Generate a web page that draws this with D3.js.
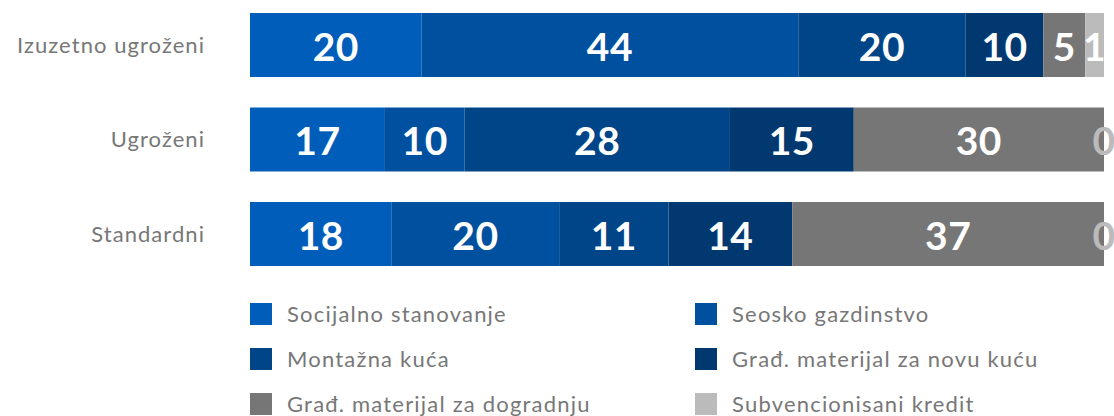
<!DOCTYPE html>
<html>
<head>
<meta charset="utf-8">
<script src="https://cdn.jsdelivr.net/npm/d3@7/dist/d3.min.js"></script>
<style>
  html, body { margin: 0; padding: 0; background: #fff; overflow: hidden; }
  svg { display: block; }
</style>
</head>
<body>
<svg id="chart" width="1114" height="416"></svg>
<script>
// ---- data ----
const categories = ["Izuzetno ugroženi", "Ugroženi", "Standardni"];
const seriesNames = [
  "Socijalno stanovanje",
  "Seosko gazdinstvo",
  "Montažna kuća",
  "Građ. materijal za novu kuću",
  "Građ. materijal za dogradnju",
  "Subvencionisani kredit"
];
const seriesColors = ["#005dba", "#0050a0", "#004587", "#00386f", "#767676", "#bbbbbb"];
// printed value labels (per category, per series)
const labelsIzuzetno = [20, 44, 20, 10, 5, 1];
const labelsUgrozeni = [17, 10, 28, 15, 30, 0];
const labelsStandardni = [18, 20, 11, 14, 37, 0];
// bar shares as drawn in the picture (percent of full bar)
const sharesIzuzetno = [20.1, 44.1, 19.6, 9.1, 4.9, 2.2];
const sharesUgrozeni = [15.8, 9.3, 31.1, 14.5, 29.3, 0];
const sharesStandardni = [16.6, 19.6, 12.8, 14.5, 36.5, 0];

const labelRows = [labelsIzuzetno, labelsUgrozeni, labelsStandardni];
const shareRows = [sharesIzuzetno, sharesUgrozeni, sharesStandardni];

// ---- layout ----
const svg = d3.select("#chart");
const x = d3.scaleLinear().domain([0, 100]).range([250, 1104]);
const y = d3.scaleBand().domain(categories).range([13, 266]).paddingInner(0.323).paddingOuter(0);
const color = d3.scaleOrdinal().domain(seriesNames).range(seriesColors);

const font = "Lato, 'Open Sans', sans-serif";

// build stacked table
const table = categories.map((c, i) => {
  const row = { category: c };
  seriesNames.forEach((s, j) => { row[s] = shareRows[i][j]; });
  return row;
});
const stacked = d3.stack().keys(seriesNames)(table);

const layers = svg.append("g").selectAll("g")
  .data(stacked).join("g")
  .attr("fill", d => color(d.key));

layers.selectAll("rect")
  .data(d => d.map((v, i) => ({ v, i, key: d.key })))
  .join("rect")
  .attr("x", d => x(d.v[0]))
  .attr("y", d => y(categories[d.i]))
  .attr("width", d => Math.max(0, x(d.v[1]) - x(d.v[0])))
  .attr("height", y.bandwidth());

// value labels
const labelsG = svg.append("g");
stacked.forEach((layer, j) => {
  layer.forEach((v, i) => {
    const val = labelRows[i][j];
    const cx = (x(v[0]) + x(v[1])) / 2;
    labelsG.append("text")
      .attr("x", cx)
      .attr("y", y(categories[i]) + y.bandwidth() / 2)
      .attr("dy", "0.40em")
      .attr("text-anchor", "middle")
      .attr("font-family", font)
      .attr("font-weight", 700)
      .attr("font-size", 39)
      .attr("letter-spacing", "0.5px")
      .attr("fill", val === 0 ? "#bbbbbb" : "#ffffff")
      .text(val);
  });
});

// category labels
svg.append("g").selectAll("text")
  .data(categories).join("text")
  .attr("x", 205)
  .attr("y", d => y(d) + y.bandwidth() / 2)
  .attr("dy", "0.36em")
  .attr("text-anchor", "end")
  .attr("font-family", font)
  .attr("font-size", 22)
  .attr("letter-spacing", "1.05px")
  .attr("fill", "#777777")
  .text(d => d);

// legend
const legend = svg.append("g").selectAll("g")
  .data(seriesNames).join("g")
  .attr("transform", (d, i) => `translate(${i % 2 === 0 ? 250 : 695},${303 + Math.floor(i / 2) * 45})`);
legend.append("rect")
  .attr("width", 22).attr("height", 22)
  .attr("fill", d => color(d));
legend.append("text")
  .attr("x", 37).attr("y", 11).attr("dy", "0.36em")
  .attr("font-family", font)
  .attr("font-size", 22)
  .attr("letter-spacing", "1.2px")
  .attr("fill", "#777777")
  .text(d => d);
</script>
</body>
</html>
